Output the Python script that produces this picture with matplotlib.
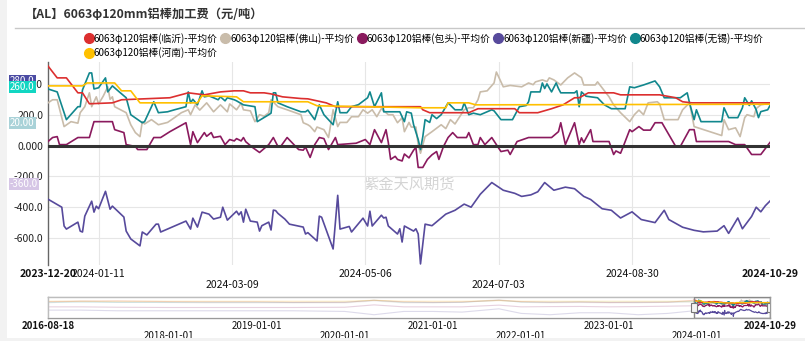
import pandas as pd
import matplotlib
matplotlib.use('Agg')
import matplotlib.pyplot as plt
import matplotlib.dates as mdates
from matplotlib.patches import Rectangle

plt.rcParams['font.family'] = ['Noto Sans CJK SC', 'DejaVu Sans']

# --- data: day offset from 2023-12-20, value (元/吨) ---
start = pd.Timestamp('2023-12-20')
end = pd.Timestamp('2024-10-29')

linyi_day = [0, 4, 8, 13, 15, 18, 28, 32, 53, 61, 68, 75, 81, 85, 88, 94, 97, 102, 110, 113, 121, 125, 162,
             163, 166, 183, 187, 203, 205, 213, 219, 224, 229, 231, 235, 246, 249, 266, 273, 276, 280, 314]
linyi_val = [516, 439, 439, 342, 342, 271, 277, 297, 310, 342, 329, 348, 355, 355, 342, 342, 335, 316, 305, 303, 277, 252, 252,
             232, 213, 213, 239, 239, 213, 213, 239, 264, 310, 310, 342, 342, 329, 329, 310, 284, 277, 277]

henan_day = [0, 15, 17, 29, 32, 36, 40, 65, 67, 82, 85, 113, 117, 162, 173, 174, 183, 186, 314]
henan_val = [387, 387, 406, 406, 355, 355, 277, 277, 323, 316, 284, 284, 258, 245, 245, 277, 277, 264, 268]

wuxi_day = [0, 4, 8, 13, 14, 15, 18, 19, 20, 22, 25, 26, 28, 31, 34, 36, 41, 42, 46, 48, 52, 55, 60, 61, 62, 63, 65,
            67, 68, 70, 72, 74, 75, 77, 78, 81, 82, 85, 90, 91, 96, 97, 98, 99, 100, 104, 110, 112, 113, 116, 118, 120,
            124, 126, 127, 130, 132, 135, 139, 140, 142, 145, 146, 153, 155, 156, 158, 159, 161, 162, 163, 164, 166,
            167, 169, 171, 174, 177, 180, 181, 183, 185, 188, 193, 194, 197, 202, 205, 208, 209, 210, 214, 215, 216,
            217, 219, 221, 222, 223, 229, 230, 231, 232, 234, 239, 242, 245, 251, 253, 255, 259, 264, 266, 268, 275,
            278, 279, 281, 282, 284, 293, 294, 296, 300, 302, 303, 305, 306, 308, 309, 310, 313, 314]
wuxi_val = [367, 348, 168, 252, 252, 361, 471, 471, 367, 375, 439, 348, 387, 348, 310, 200, 148, 155, 284, 213, 219, 232, 252, 348, 277, 300, 264,
            355, 316, 322, 310, 297, 316, 290, 310, 297, 290, 264, 252, 155, 200, 210, 342, 342, 277, 252, 219, 219, 230, 168, 264, 200,
            135, 284, 213, 213, 252, 265, 310, 348, 252, 342, 219, 219, 155, 219, 210, 135, 39, -26, 58, 168, 150,
            200, 175, 200, 277, 232, 232, 277, 200, 210, 200, 232, 225, 168, 168, 252, 260, 284, 348, 348, 406, 370,
            400, 348, 406, 370, 342, 342, 355, 252, 348, 320, 310, 264, 239, 239, 381, 375, 393, 419, 381, 310, 310,
            342, 277, 168, 232, 155, 155, 245, 181, 181, 245, 310, 260, 290, 232, 181, 220, 232, 260]

foshan_day = [0, 2, 4, 7, 10, 13, 14, 16, 18, 19, 21, 22, 24, 26, 27, 28, 29, 34, 36, 38, 40, 41, 42, 45, 48, 52, 55,
              58, 61, 62, 64, 66, 69, 72, 75, 78, 79, 82, 84, 85, 88, 90, 92, 94, 96, 97, 100, 104, 110, 111, 113, 114,
              116, 117, 120, 122, 124, 126, 127, 130, 132, 135, 137, 139, 141, 143, 145, 148, 150, 152, 154, 155, 157,
              158, 160, 161, 162, 164, 167, 171, 173, 175, 177, 181, 183, 185, 187, 188, 191, 194, 195, 198, 201, 206,
              209, 211, 212, 215, 217, 218, 220, 223, 226, 229, 232, 233, 238, 239, 244, 246, 249, 253, 255, 257, 259,
              261, 265, 266, 268, 274, 276, 279, 281, 293, 294, 296, 299, 301, 303, 304, 307, 308, 310, 314]
foshan_val = [277, 297, 297, 123, 155, 145, 213, 252, 342, 252, 316, 270, 320, 381, 300, 316, 252, 213, 135, 84, 58, 155, 140, 168, 135, 150, 181,
              213, 232, 200, 264, 230, 277, 219, 264, 219, 270, 232, 275, 232, 225, 155, 200, 190, 213, 297, 252, 232, 200, 148, 135, 125,
              90, 120, 103, 52, 232, 123, 150, 150, 187, 187, 232, 210, 232, 187, 240, 200, 200, 148, 180, 90, 150,
              120, 120, 6, -50, 58, 90, 135, 110, 168, 140, 232, 245, 245, 297, 348, 355, 406, 477, 381, 390, 381,
              406, 395, 413, 426, 415, 439, 426, 393, 439, 471, 440, 393, 393, 413, 316, 264, 213, 155, 200, 230, 200,
              277, 284, 270, 168, 168, 232, 277, 123, 65, 168, 103, 115, 58, 181, 200, 187, 240, 264, 275]

baotou_day = [0, 2, 4, 5, 8, 13, 18, 20, 28, 29, 33, 34, 38, 39, 43, 46, 49, 53, 60, 62, 63, 65, 68, 69, 71, 72, 75,
              77, 79, 81, 82, 84, 85, 86, 89, 92, 96, 98, 100, 101, 104, 109, 111, 112, 114, 116, 118, 120, 122, 125,
              126, 134, 138, 140, 142, 145, 147, 148, 149, 151, 152, 154, 155, 157, 159, 160, 161, 163, 165, 167, 169,
              170, 172, 174, 176, 178, 182, 183, 185, 187, 188, 190, 193, 195, 197, 200, 201, 204, 209, 219, 222, 223,
              225, 229, 231, 232, 233, 236, 237, 244, 246, 247, 249, 250, 253, 254, 257, 259, 262, 264, 267, 273, 275,
              279, 281, 282, 296, 299, 303, 306, 310, 314]
baotou_val = [26, 52, 58, 6, 6, 52, 52, 155, 155, 103, 84, 6, -6, -26, -26, 52, 52, 90, 148, 6, 90, 19, 84, 60, 84, 52, 60,
              6, 39, 30, 45, 30, 52, 25, -13, -45, 6, 52, -6, -10, 52, -26, -30, -10, -77, 6, 52, 45, -26, 52,
              6, 15, 39, 6, 103, 19, 103, 20, -90, -70, -90, -100, -55, -80, -30, -13, -142, -142, -90, -60, -39,
              -90, -6, 52, 84, 52, 52, 84, 6, 6, 52, 6, 52, 6, -39, -30, -58, 26, 52, 52, 90, 148,
              6, 148, 6, 50, 20, 103, 26, 26, -58, -35, -50, -13, 103, 90, 123, 100, 100, 148, 148, -6, -6,
              103, 103, 26, 26, 6, 6, -58, -58, 20]

xinjiang_day = [0, 6, 7, 8, 13, 14, 15, 16, 19, 20, 21, 22, 25, 27, 28, 33, 34, 36, 40, 41, 43, 47, 48, 49, 60, 62, 63,
                65, 67, 70, 72, 75, 76, 78, 82, 83, 84, 85, 86, 88, 91, 92, 93, 96, 97, 98, 99, 100, 103, 105, 111,
                112, 113, 117, 118, 119, 124, 126, 127, 131, 132, 137, 139, 140, 141, 145, 146, 147, 148, 152, 153,
                154, 155, 159, 160, 161, 162, 164, 167, 173, 177, 181, 184, 188, 193, 196, 198, 203, 206, 210, 213,
                216, 220, 225, 229, 233, 236, 241, 245, 249, 254, 258, 264, 268, 270, 276, 281, 285, 291, 294, 296,
                300, 302, 306, 308, 310, 312, 314]
xinjiang_val = [-348, -400, -522, -542, -497, -555, -561, -458, -361, -432, -393, -410, -297, -413, -393, -464, -555, -606, -651, -561, -580, -510, -510, -561, -490, -542, -471,
                -529, -432, -445, -477, -465, -400, -484, -426, -450, -430, -497, -413, -490, -497, -555, -520, -497, -548, -419, -422, -440, -477, -510, -529,
                -574, -565, -619, -458, -465, -671, -323, -542, -525, -561, -471, -522, -426, -522, -452, -470, -465, -522, -574, -540,
                -626, -522, -555, -540, -574, -768, -510, -520, -445, -420, -380, -400, -316, -240, -270, -290, -310, -330, -320, -300,
                -240, -290, -270, -280, -330, -350, -410, -420, -470, -430, -480, -500, -420, -480, -530, -550, -560, -555, -520, -570,
                -470, -540, -460, -400, -430, -390, -360]

# coarse history for the navigator strip
hist_dates = ['2016-08-18', '2017-01-01', '2017-06-01', '2018-01-01', '2018-06-01', '2019-01-01', '2019-06-01',
              '2020-01-01', '2020-05-01', '2020-09-01', '2021-01-01', '2021-05-01', '2021-10-01', '2022-01-01',
              '2022-05-01', '2022-09-01', '2023-01-01', '2023-05-01', '2023-09-01', '2023-12-19']
hist_linyi = [350, 380, 400, 350, 330, 330, 300, 300, 450, 330, 300, 320, 450, 350, 300, 320, 280, 300, 300, 450]
hist_foshan = [250, 400, 300, 280, 250, 250, 250, 250, 400, 250, 250, 300, 500, 300, 250, 280, 250, 250, 300, 280]
hist_henan = [380, 380, 380, 380, 380, 380, 380, 380, 450, 380, 380, 380, 420, 380, 380, 380, 380, 380, 380, 390]
hist_wuxi = [300, 320, 300, 300, 300, 300, 280, 300, 450, 300, 280, 300, 450, 320, 300, 330, 300, 300, 320, 370]
hist_baotou = [-50, -50, -80, -100, -100, -100, -100, -80, 100, -50, -50, -50, 80, -50, -30, -20, -50, -30, 0, 30]
hist_xinjiang = [-300, -300, -350, -350, -350, -350, -350, -400, -650, -400, -400, -450, -200, -550, -650, -500, -500, -650, -550, -350]

names = ['6063φ120铝棒(临沂)-平均价', '6063φ120铝棒(河南)-平均价', '6063φ120铝棒(佛山)-平均价',
         '6063φ120铝棒(包头)-平均价', '6063φ120铝棒(新疆)-平均价', '6063φ120铝棒(无锡)-平均价']
colors = ['#dc2f2f', '#ffc000', '#c9bcaa', '#8a1a5e', '#574a9c', '#11878d']
series = [(linyi_day, linyi_val, hist_linyi), (henan_day, henan_val, hist_henan),
          (foshan_day, foshan_val, hist_foshan), (baotou_day, baotou_val, hist_baotou),
          (xinjiang_day, xinjiang_val, hist_xinjiang), (wuxi_day, wuxi_val, hist_wuxi)]
draw_order = [2, 5, 0, 1, 3, 4]

W, H = 805, 341
fig = plt.figure(figsize=(W / 100, H / 100), dpi=100)
fig.patch.set_facecolor('white')

# main axes
ax = fig.add_axes([48 / W, 1 - 265 / H, 722 / W, 203 / H])
for i in draw_order:
    d, v, _ = series[i]
    x = start + pd.to_timedelta(d, unit='D')
    ax.plot(x, v, color=colors[i], lw=1.2, zorder=3)
ax.axhline(0, color='#333333', lw=2.2, zorder=4)
ax.set_xlim(start, end)
ax.set_ylim(-775, 542)

yt = [-600, -400, -200, 0, 200, 400]
ax.set_yticks(yt)
ax.set_yticklabels(['-600.0', '-400.0', '-200.0', '0.000', '200.0', '400.0'], fontsize=7.5, color='#222222')

xt_labels = ['2023-12-20', '2024-01-11', '2024-03-09', '2024-05-06', '2024-07-03', '2024-08-30', '2024-10-29']
ax.set_xticks(pd.to_datetime(xt_labels))
ax.set_xticklabels(xt_labels, fontsize=7.5, color='#111111')
for k, t in enumerate(ax.xaxis.get_major_ticks()):
    if xt_labels[k] in ('2024-03-09', '2024-07-03'):
        t.set_pad(11)
    else:
        t.set_pad(3)
    if k in (0, len(xt_labels) - 1):
        t.label1.set_fontweight('bold')
ax.tick_params(length=0)
ax.grid(True, color='#e6e6e6', lw=0.8, zorder=0)
gl = ax.get_xgridlines()
gl[0].set_visible(False)
gl[-1].set_visible(False)
for s in ['top', 'right', 'bottom']:
    ax.spines[s].set_visible(False)
ax.spines['left'].set_color('#666666')
ax.spines['left'].set_linewidth(1)

ax.text(0.5, 0.40, '紫金天风期货', transform=ax.transAxes, ha='center', va='center',
        fontsize=11, color='#d4d4d4', zorder=1)

# navigator strip
nav = fig.add_axes([48 / W, 1 - 318 / H, 722 / W, 21 / H])
hd = pd.to_datetime(hist_dates)
for i in draw_order:
    d, v, hv = series[i]
    nav.plot(hd, hv, color=colors[i], lw=0.8, alpha=0.3)
    nav.plot(start + pd.to_timedelta(d, unit='D'), v, color=colors[i], lw=0.9)
nav.set_xlim(pd.Timestamp('2016-08-18'), end)
nav.set_ylim(-900, 700)
nav.set_yticks([])
nt_labels = ['2016-08-18', '2018-01-01', '2019-01-01', '2020-01-01', '2021-01-01', '2022-01-01',
             '2023-01-01', '2024-01-01', '2024-10-29']
nav.set_xticks(pd.to_datetime(nt_labels))
nav.set_xticklabels(nt_labels, fontsize=7, color='#111111')
for k, t in enumerate(nav.xaxis.get_major_ticks()):
    t.set_pad(9.5 if nt_labels[k][:4] in ('2018', '2020', '2022') or nt_labels[k] == '2024-01-01' else 2)
    if k in (0, len(nt_labels) - 1):
        t.label1.set_fontweight('bold')
nav.tick_params(length=0)
for s in nav.spines.values():
    s.set_color('#9a9a9a')
    s.set_linewidth(1)
sel0 = mdates.date2num(start)
sel1 = mdates.date2num(end)
nav.axvspan(mdates.date2num(pd.Timestamp('2016-08-18')), sel0, color='white', alpha=0.35, lw=0, zorder=5)
nav.add_patch(Rectangle((sel0, -900), sel1 - sel0, 1600, fill=False, ec='#888888', lw=1, zorder=6))
for xh in (sel0, sel1):
    nav.add_patch(Rectangle((xh - 12, -450), 24, 700, fc='#f4f4f4', ec='#777777', lw=0.8, zorder=7))

# title and separator
fig.text(25 / W, 1 - 14 / H, '【AL】6063φ120mm铝棒加工费（元/吨）', fontsize=8.8, fontweight='bold',
         color='#333333', va='center', ha='left')
fig.add_artist(plt.Line2D([15 / W, 1], [1 - 28 / H, 1 - 28 / H], color='#c8c8c8', lw=1))
fig.add_artist(Rectangle((0, 0), 7 / W, 1, transform=fig.transFigure, fc='#f2f2f2', ec='none'))
fig.add_artist(Rectangle((0, 0), 1, 3 / H, transform=fig.transFigure, fc='#f2f2f2', ec='none'))

# legend (column-major fill puts 河南 under 临沂)
handles = [plt.Line2D([], [], ls='', marker='o', ms=7, color=c) for c in colors]
fig.legend(handles, names, loc='upper left', bbox_to_anchor=(86 / W, 1 - 33 / H),
           ncol=5, frameon=False, fontsize=7, handlelength=0.6, handletextpad=0.2, columnspacing=0.5,
           labelspacing=0.35, borderaxespad=0, borderpad=0)

# last-value tags on the left
tags = [('280.0', '#4b4ba3', 81), ('260.0', '#12d6c2', 87), ('20.00', '#a9d2d8', 123), ('-360.0', '#d6c6e6', 184)]
for txt, c, yp in tags:
    fig.text(10 / W, 1 - yp / H, txt, fontsize=7, color='white', va='center', ha='left',
             bbox=dict(boxstyle='square,pad=0.12', fc=c, ec='none'))

fig.savefig('out.png', dpi=100)
